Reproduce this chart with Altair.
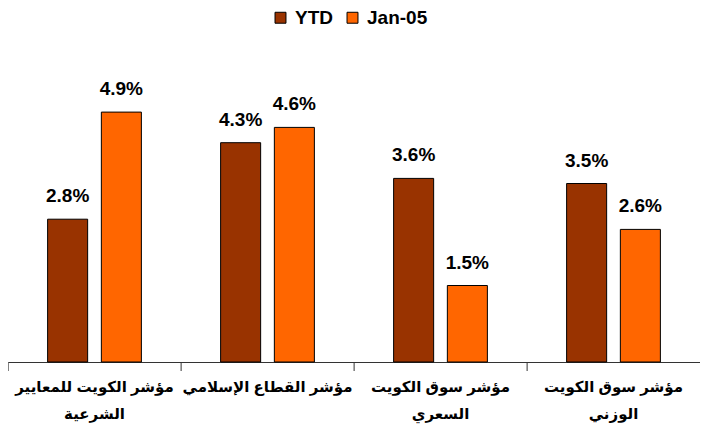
import altair as alt
import pandas as pd

categories = [
    "مؤشر الكويت للمعايير|الشرعية",
    "مؤشر القطاع الإسلامي",
    "مؤشر سوق الكويت|السعري",
    "مؤشر سوق الكويت|الوزني",
]
series = ["YTD", "Jan-05"]
ytd = [2.8, 4.3, 3.6, 3.5]
jan05 = [4.9, 4.6, 1.5, 2.6]
colors = ["#993300", "#FF6600"]

rows = []
for c, a, b in zip(categories, ytd, jan05):
    rows.append({"cat": c, "series": series[0], "value": a})
    rows.append({"cat": c, "series": series[1], "value": b})
df = pd.DataFrame(rows)
df["label"] = df["value"].map(lambda v: f"{v:.1f}%")
cat_df = pd.DataFrame({"cat": categories})

FONT = "Liberation Sans, Arial, DejaVu Sans"
XSCALE = alt.Scale(domain=categories, paddingInner=0.458, paddingOuter=0.229)

x = alt.X(
    "cat:N",
    sort=categories,
    title=None,
    scale=XSCALE,
    axis=alt.Axis(
        labelExpr="split(datum.label, '|')",
        labelAngle=0,
        labelFont=FONT,
        labelFontSize=15,
        labelFontWeight="bold",
        labelColor="black",
        labelLimit=400,
        labelPadding=17,
        labelLineHeight=27,
        ticks=False,
        domainColor="#333333",
        grid=False,
    ),
)
xo = alt.XOffset(
    "series:N", sort=series, scale=alt.Scale(domain=series, paddingInner=0.255, paddingOuter=0)
)
y = alt.Y("value:Q", scale=alt.Scale(domain=[0, 6]), axis=None)

bars = alt.Chart(df).mark_bar(stroke="black", strokeWidth=1).encode(
    x=x,
    xOffset=xo,
    y=y,
    color=alt.Color(
        "series:N",
        sort=series,
        scale=alt.Scale(domain=series, range=colors),
        legend=alt.Legend(
            title=None,
            orient="none",
            legendX=263,
            legendY=-48,
            direction="horizontal",
            symbolType="square",
            symbolSize=120,
            symbolStrokeColor="black",
            symbolStrokeWidth=1,
            labelFont=FONT,
            labelFontSize=19,
            labelFontWeight="bold",
            labelColor="black",
            columnPadding=10,
            labelOffset=5,
        ),
    ),
)

texts = alt.Chart(df).mark_text(
    baseline="alphabetic", dy=-17, fontSize=19, fontWeight="bold", font=FONT, color="black"
).encode(x=x, xOffset=xo, y=y, text="label:N")

ticks = alt.Chart(cat_df).mark_rule(color="#333333", strokeWidth=1, xOffset=-39.5).encode(
    x=alt.X("cat:N", sort=categories, bandPosition=0, scale=XSCALE, title=None),
    y=alt.value(306),
    y2=alt.value(315),
)

chart = (
    alt.layer(bars, texts, ticks)
    .properties(
        width=692,
        height=306,
        padding={"left": 0, "top": 48, "right": 0, "bottom": 70},
        autosize=alt.AutoSizeParams(type="none"),
    )
    .configure_view(stroke=None)
)

chart.save("out.html", embed_options={"renderer": "svg", "actions": False})
